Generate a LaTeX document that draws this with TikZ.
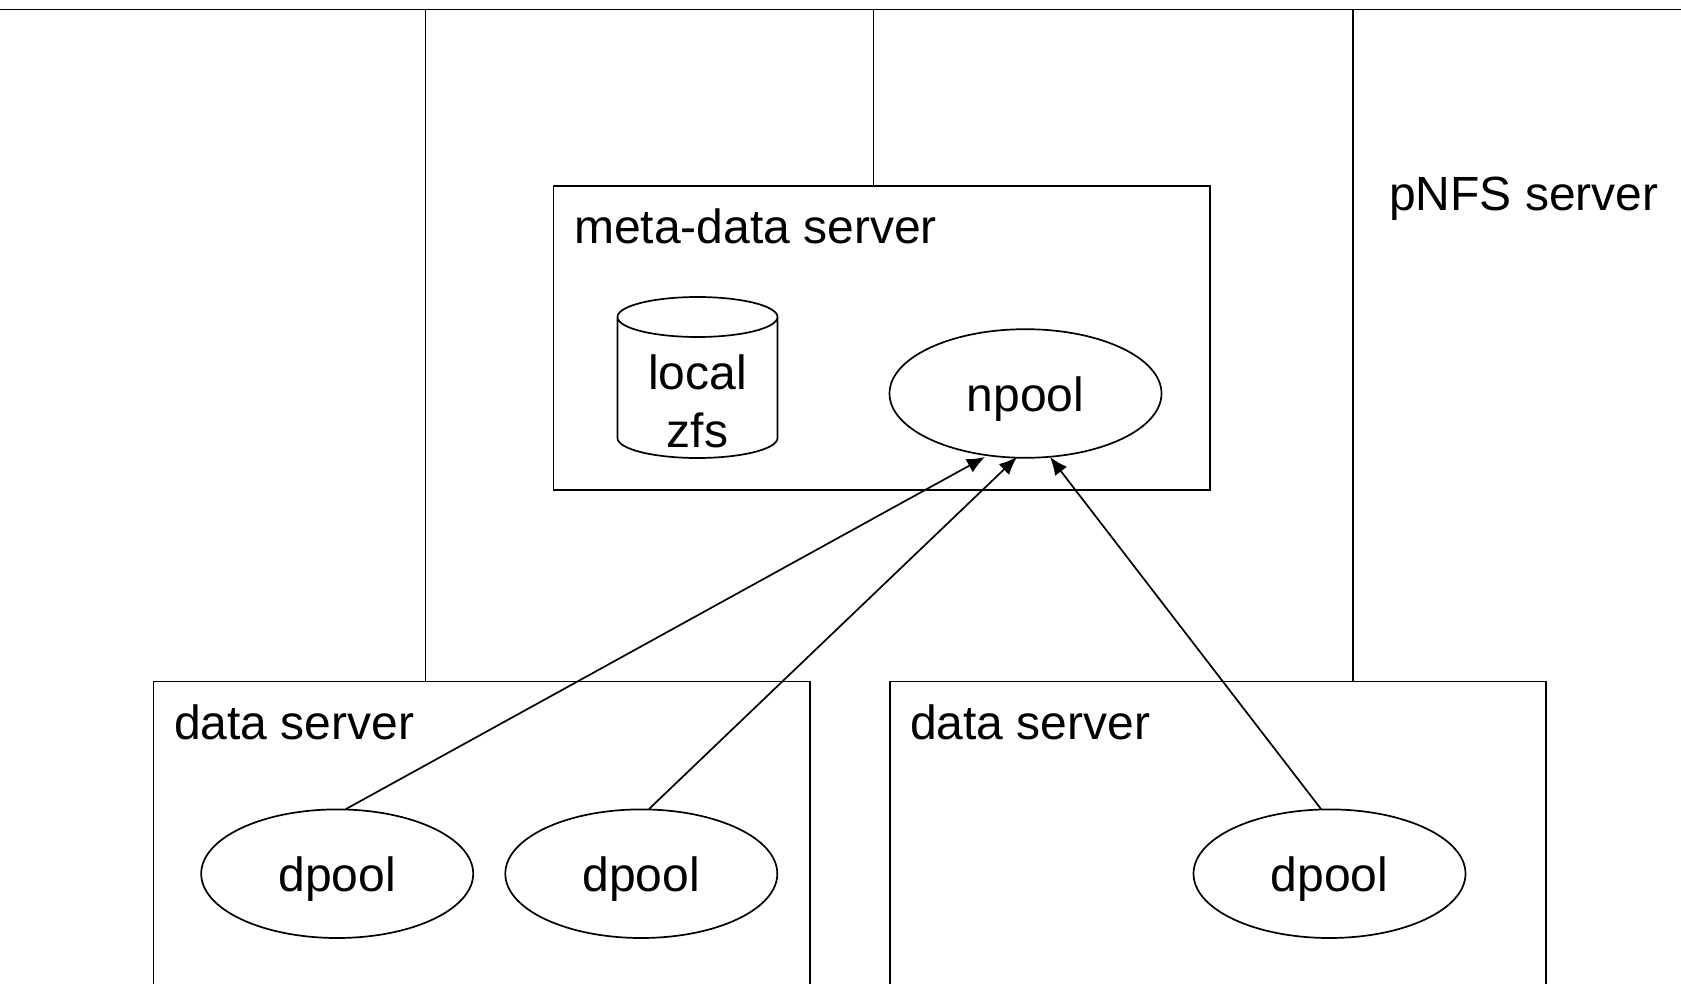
\documentclass[tikz,border=0pt]{standalone}
\usepackage{fontspec}
\setmainfont{Liberation Sans}
\usetikzlibrary{shapes.geometric,arrows.meta}
\begin{document}
\begin{tikzpicture}[x=1pt,y=-1pt,
  line/.style={draw=black,line width=1.7pt},
  box/.style={line,rectangle,inner sep=0pt,anchor=north west},
  pool/.style={line,ellipse,minimum width=272pt,minimum height=128.6pt,inner sep=0pt,text height=36pt,text depth=0pt,font=\fontsize{48}{54}\selectfont},
  lbl/.style={inner sep=0pt,anchor=base west,font=\fontsize{48}{54}\selectfont},
  link/.style={line,-{Latex[length=18pt,width=15pt]}}]
\useasboundingbox (0,0) rectangle (1681,984);
\clip (0,0) rectangle (1681,984);
\coordinate (tl) at (0,9.6);
\coordinate (tr) at (1681,9.6);
\coordinate (v1t) at (425.6,9.6);
\coordinate (v2t) at (873.4,9.6);
\coordinate (v3t) at (1353,9.6);
\draw[line] (tl) -- (tr);
\node[box,minimum width=656.3pt,minimum height=303.8pt] (meta) at (552.5,185.3) {};
\node[box,minimum width=656.1pt,minimum height=340pt] (ds1) at (152.7,680.6) {};
\node[box,minimum width=656.1pt,minimum height=340pt] (ds2) at (889,680.6) {};
\coordinate (v1b) at (425.6,680.6);
\coordinate (v2b) at (873.4,185.3);
\coordinate (v3b) at (1353,680.6);
\draw[line] (v1t) -- (v1b);
\draw[line] (v2t) -- (v2b);
\draw[line] (v3t) -- (v3b);
\node[pool] (npool) at (1025.5,393.5) {npool};
\node[pool] (d1) at (337.2,873.7) {dpool};
\node[pool] (d2) at (641.3,873.7) {dpool};
\node[pool] (d3) at (1329.5,873.7) {dpool};
\node[lbl] (t1) at (574,244) {meta-data server};
\node[lbl] (t2) at (174,739) {data server};
\node[lbl] (t3) at (910,739) {data server};
\node[lbl] (t4) at (1389,211) {pNFS server};
\draw[line] (617.5,317) arc[start angle=180,end angle=360,x radius=80pt,y radius=20pt]
  arc[start angle=0,end angle=180,x radius=80pt,y radius=20pt]
  -- (617.5,438) arc[start angle=180,end angle=360,x radius=80pt,y radius=20pt] -- (777.5,317);
\node[inner sep=0pt,align=center,font=\fontsize{48}{58}\selectfont] (zfs) at (697.5,401) {local\\zfs};
\coordinate (e1s) at (346,809);
\coordinate (e2s) at (649,809);
\coordinate (e3s) at (1321,809);
\coordinate (e1e) at (985,457);
\coordinate (e2e) at (1017,457);
\coordinate (e3e) at (1050,457);
\draw[link] (e1s) -- (e1e);
\draw[link] (e2s) -- (e2e);
\draw[link] (e3s) -- (e3e);
\end{tikzpicture}
\end{document}
